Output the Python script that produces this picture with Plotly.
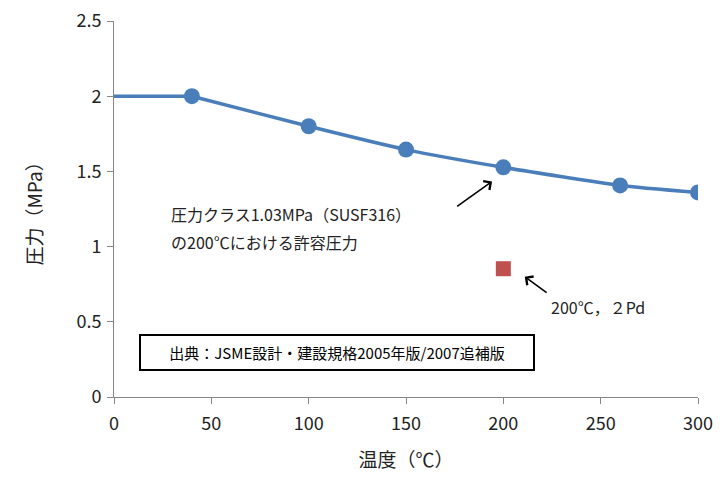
import plotly.graph_objects as go

temps = [0, 40, 100, 150, 200, 260, 300]
pressures = [2.0, 2.0, 1.80, 1.645, 1.527, 1.407, 1.36]
marker_temps = [40, 100, 150, 200, 260, 300]
marker_pressures = [2.0, 1.80, 1.645, 1.527, 1.407, 1.36]
pd_temp = [200]
pd_value = [0.853]

FONT = "Noto Sans CJK JP"
BLUE = "#4A7EBB"
RED = "#C0504D"
GRAY = "#868686"

fig = go.Figure()
fig.add_trace(go.Scatter(x=temps[:2], y=pressures[:2], mode="lines",
                         line=dict(color=BLUE, width=3.5),
                         hoverinfo="skip", showlegend=False))
fig.add_trace(go.Scatter(x=temps[1:], y=pressures[1:], mode="lines",
                         line=dict(color=BLUE, width=3.5, shape="spline", smoothing=0.5),
                         hoverinfo="skip", showlegend=False))
fig.add_trace(go.Scatter(x=marker_temps, y=marker_pressures, mode="markers",
                         marker=dict(color=BLUE, size=16, line=dict(width=0)),
                         showlegend=False))
fig.add_trace(go.Scatter(x=pd_temp, y=pd_value, mode="markers",
                         marker=dict(color=RED, size=15, symbol="square", line=dict(width=0)),
                         showlegend=False))

fig.add_annotation(x=194.2, y=1.433, ax=175.5, ay=1.26, xref="x", yref="y",
                   axref="x", ayref="y", text="", showarrow=True,
                   arrowhead=4, arrowsize=1.3, arrowwidth=1.6, arrowcolor="black")
fig.add_annotation(x=211.0, y=0.80, ax=223.0, ay=0.687, xref="x", yref="y",
                   axref="x", ayref="y", text="", showarrow=True,
                   arrowhead=4, arrowsize=1.3, arrowwidth=1.6, arrowcolor="black")

fig.add_annotation(x=28.5, y=1.22, xref="x", yref="y", xanchor="left", yanchor="middle",
                   text="圧力クラス1.03MPa（SUSF316）",
                   showarrow=False, align="left",
                   font=dict(family=FONT, size=16, color="#222"))
fig.add_annotation(x=28.5, y=1.033, xref="x", yref="y", xanchor="left", yanchor="middle",
                   text="の200℃における許容圧力",
                   showarrow=False, align="left",
                   font=dict(family=FONT, size=16, color="#222"))
fig.add_annotation(x=223.5, y=0.6, xref="x", yref="y", xanchor="left", yanchor="middle",
                   text="200℃，２Pd", showarrow=False,
                   font=dict(family=FONT, size=16, color="#222"))
fig.add_annotation(x=114.5, y=0.293, xref="x", yref="y", xanchor="center", yanchor="middle",
                   text="出典：JSME設計・建設規格2005年版/2007追補版", showarrow=False,
                   font=dict(family=FONT, size=15, color="black"),
                   bordercolor="black", borderwidth=2, borderpad=6, bgcolor="white",
                   width=380)

fig.update_layout(
    width=726, height=480,
    margin=dict(l=106, r=36, t=13, b=91, autoexpand=False),
    paper_bgcolor="white", plot_bgcolor="white",
    font=dict(family=FONT, size=16, color="#222"),
    xaxis=dict(range=[0, 300], tickvals=[0, 50, 100, 150, 200, 250, 300],
               showgrid=False, zeroline=False, showline=True, linecolor=GRAY, linewidth=1,
               ticks="outside", ticklen=6, tickcolor=GRAY, automargin=False,
               ticklabelstandoff=4, ticklabeloverflow="allow",
               title=dict(text="温度（℃）", font=dict(family=FONT, size=19), standoff=20),
               tickfont=dict(family=FONT, size=18)),
    yaxis=dict(range=[0, 2.5], tickvals=[0, 0.5, 1, 1.5, 2, 2.5],
               ticktext=["0", "0.5", "1", "1.5", "2", "2.5"],
               showgrid=False, zeroline=False, showline=True, linecolor=GRAY, linewidth=1,
               ticks="outside", ticklen=6, tickcolor=GRAY, automargin=False,
               ticklabelstandoff=2, ticklabeloverflow="allow",
               title=dict(text="圧力（MPa）", font=dict(family=FONT, size=19), standoff=28),
               tickfont=dict(family=FONT, size=18)),
)

fig.write_html("out.html")
